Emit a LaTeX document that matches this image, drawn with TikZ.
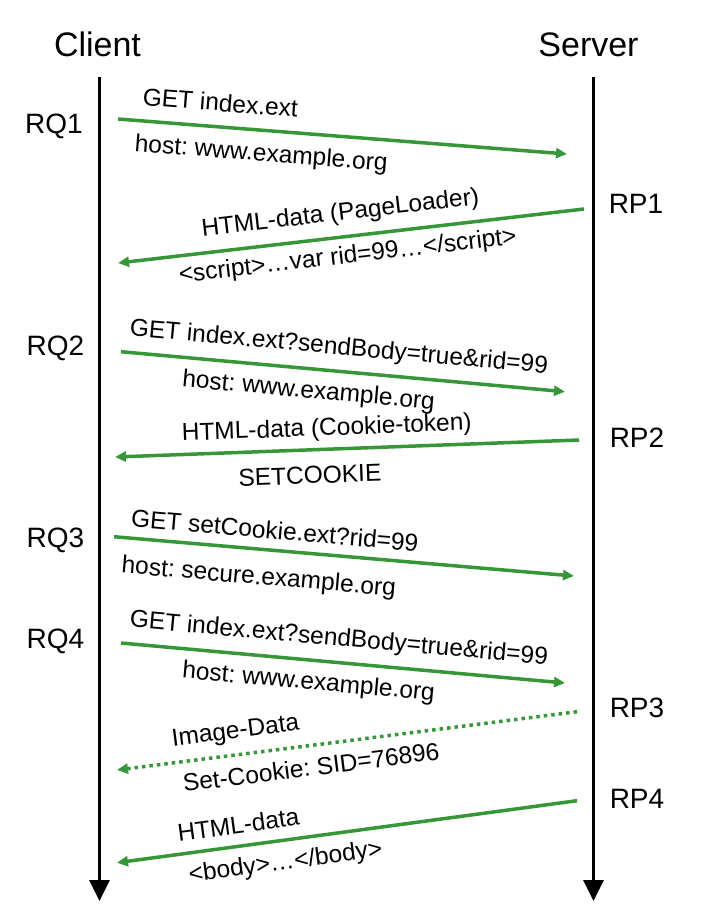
\documentclass[tikz,border=0pt]{standalone}
\usepackage{fontspec}
\setmainfont{Liberation Sans}
\usetikzlibrary{arrows.meta}
\definecolor{msggreen}{RGB}{55,150,55}
\frenchspacing

\begin{document}
\begin{tikzpicture}[x=1pt,y=-1pt,
  lifeline/.style={line width=3.3pt, -{Triangle[length=21pt,width=20pt]}},
  msg/.style={line width=3.5pt, msggreen, -{Triangle[length=11pt,width=10pt]}},
  msgdot/.style={msg, dash pattern=on 3.5pt off 4pt},
  tag/.style={font=\fontsize{24.5}{28}\selectfont, text=black, text height=17.5pt, text depth=5pt, inner sep=0pt, sloped},
  side/.style={font=\fontsize{28}{32}\selectfont, anchor=base, inner sep=0pt},
  party/.style={font=\fontsize{34}{40}\selectfont, anchor=base, inner sep=0pt}]
\useasboundingbox (0,0) rectangle (702,922);
% lifelines
\node[party] (client) at (97.5,56) {Client};
\node[party] (server) at (588.5,56) {Server};
\coordinate (ctop) at (99.5,77); \coordinate (cbot) at (99.5,901);
\coordinate (stop) at (593.5,77); \coordinate (sbot) at (593.5,901);
\draw[lifeline] (ctop)--(cbot);
\draw[lifeline] (stop)--(sbot);
\foreach \n/\t/\x/\y in {rq1/RQ1/54/133, rq2/RQ2/55.5/355, rq3/RQ3/55.5/547, rq4/RQ4/55.5/648}{
  \node[side] (\n) at (\x,\y) {\t};
}
\foreach \n/\t/\x/\y in {rp1/RP1/636/213, rp2/RP2/637/447, rp3/RP3/637/717, rp4/RP4/637/808}{
  \node[side] (\n) at (\x,\y) {\t};
}
% messages
\coordinate (q1a) at (118,119);   \coordinate (q1b) at (567,154);
\coordinate (p1a) at (584,209);   \coordinate (p1b) at (118,263);
\coordinate (q2a) at (121,351.7); \coordinate (q2b) at (565,391.7);
\coordinate (p2a) at (579,440);   \coordinate (p2b) at (115,457);
\coordinate (q3a) at (114,536.7); \coordinate (q3b) at (574,576);
\coordinate (q4a) at (121,643);   \coordinate (q4b) at (565,683);
\coordinate (p3a) at (577,711.7); \coordinate (p3b) at (117,770);
\coordinate (p4a) at (577,800.7); \coordinate (p4b) at (117,862.7);
\draw[msg] (q1a)--(q1b)
  node[tag,pos=0.224,above=9pt] (q1t) {GET index.ext}
  node[tag,pos=0.323,below=11.5pt] (q1h) {host: www.example.org};
\draw[msg] (p1a)--(p1b)
  node[tag,pos=0.517,above=10pt] (p1t) {HTML-data (PageLoader)}
  node[tag,pos=0.512,below=7.5pt] (p1h) {<script>…var rid=99…</script>};
\draw[msg] (q2a)--(q2b)
  node[tag,pos=0.486,above=10pt] (q2t) {GET index.ext?sendBody=true\&rid=99}
  node[tag,pos=0.427,below=10pt] (q2h) {host: www.example.org};
\draw[msg] (p2a)--(p2b)
  node[tag,pos=0.542,above=7pt] (p2t) {HTML-data (Cookie-token)}
  node[tag,pos=0.582,below=14.5pt] (p2h) {SETCOOKIE};
\draw[msg] (q3a)--(q3b)
  node[tag,pos=0.346,above=4.5pt] (q3t) {GET setCookie.ext?rid=99}
  node[tag,pos=0.32,below=16pt] (q3h) {host: secure.example.org};
\draw[msg] (q4a)--(q4b)
  node[tag,pos=0.486,above=10pt] (q4t) {GET index.ext?sendBody=true\&rid=99}
  node[tag,pos=0.427,below=10pt] (q4h) {host: www.example.org};
\draw[msgdot] (p3a)--(p3b)
  node[tag,pos=0.736,above=9.7pt] (p3t) {Image-Data}
  node[tag,pos=0.584,below=11pt] (p3h) {Set-Cookie: SID=76896};
\draw[msg] (p4a)--(p4b)
  node[tag,pos=0.730,above=6pt] (p4t) {HTML-data}
  node[tag,pos=0.64,below=10pt] (p4h) {<body>…</body>};
\end{tikzpicture}
\end{document}
